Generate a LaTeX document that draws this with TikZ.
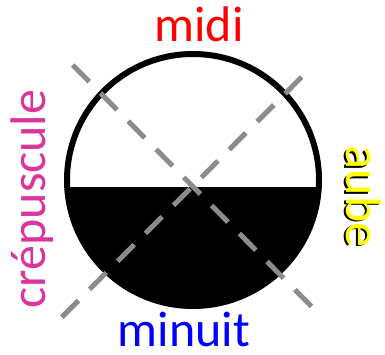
\documentclass[tikz,border=0pt]{standalone}
\usepackage{fontspec}
\newfontfamily\labelfont{Carlito}
\usetikzlibrary{positioning}
\definecolor{noonred}{HTML}{FF0000}
\definecolor{nightblue}{HTML}{0000FF}
\definecolor{dawnyellow}{HTML}{FFFF00}
\definecolor{duskpink}{HTML}{D9359C}
\definecolor{axisgray}{HTML}{8C8C8C}

\begin{document}
\begin{tikzpicture}[x=1pt,y=-1pt,
  word/.style={inner sep=0pt,anchor=base,font=\labelfont\fontsize{50}{60}\selectfont},
  cutline/.style={draw=axisgray,line width=5pt,dash pattern=on 23.5pt off 16pt}
]
\useasboundingbox (0,0) rectangle (385,355);
% dark lower half
\begin{scope}
  \clip (60,188) rectangle (326,320);
  \fill[black] (193,180) circle[radius=126];
\end{scope}
\node[circle,draw=black,line width=6pt,minimum size=252pt,inner sep=0pt] (disc) at (193,180) {};
% the two crossing diagonals
\coordinate (nw) at (72.7,65);
\coordinate (se) at (315,310);
\coordinate (ne) at (301.7,77);
\coordinate (sw) at (59,320);
\draw[cutline] (nw) -- (se);
\draw[cutline] (ne) -- (sw);
% labels
\node[word,text=noonred] (midi) at (199,41.7) {midi};
\node[word,text=nightblue] (minuit) at (184,346.7) {minuit};
\node[word,text=duskpink,rotate=90] (dusk) at (45,199) {crépuscule};
\node[word,text=black,rotate=-90] (dawnshadow) at (344.8,197.8) {aube};
\node[word,text=dawnyellow,rotate=-90] (dawn) at (346,196.5) {aube};
\end{tikzpicture}
\end{document}
